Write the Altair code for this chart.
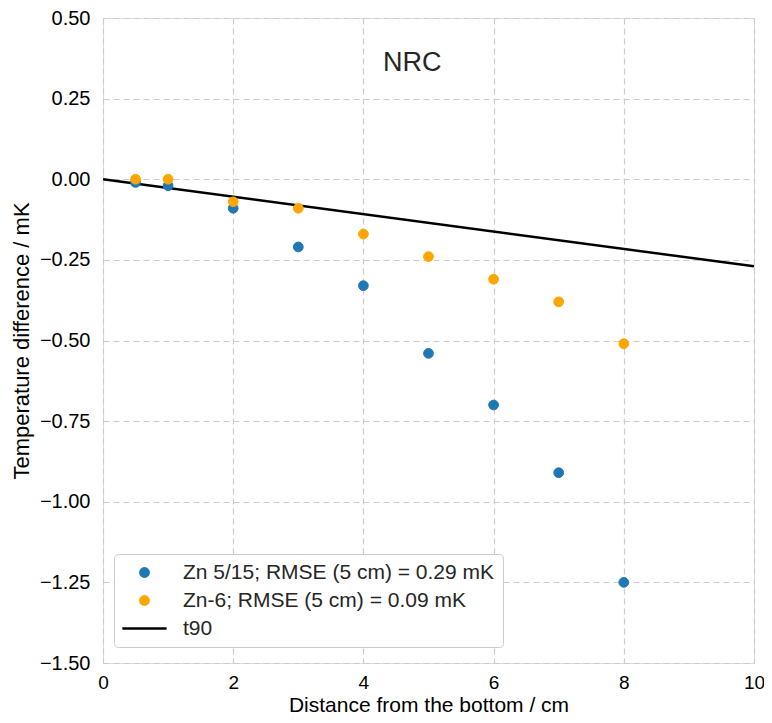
import altair as alt
import pandas as pd

distance = [0.5, 1, 2, 3, 4, 5, 6, 7, 8]
zn515 = [-0.01, -0.02, -0.09, -0.21, -0.33, -0.54, -0.70, -0.91, -1.25]
zn6 = [0.00, 0.00, -0.07, -0.09, -0.17, -0.24, -0.31, -0.38, -0.51]
t90_x = [0, 10]
t90_y = [0.0, -0.27]

labels = ["Zn 5/15; RMSE (5 cm) = 0.29 mK", "Zn-6; RMSE (5 cm) = 0.09 mK", "t90"]
colors = ["#1f77b4", "#ffa500", "#000000"]
shapes = ["circle", "circle", "M-5.3,0L5.3,0"]

pts = pd.DataFrame({
    "x": distance + distance,
    "y": zn515 + zn6,
    "series": [labels[0]] * len(distance) + [labels[1]] * len(distance),
})
line_df = pd.DataFrame({"x": t90_x, "y": t90_y})
title_df = pd.DataFrame({"x": [4.75], "y": [0.36], "t": ["NRC"]})

FONT = "Liberation Sans"
xs = alt.Scale(domain=[0, 10], nice=False, zero=False)
ys = alt.Scale(domain=[-1.5, 0.5], nice=False, zero=False)

xax = alt.Axis(values=[0, 2, 4, 6, 8, 10], format="d", title="Distance from the bottom / cm",
               labelFontSize=19, titleFontSize=21, labelPadding=10, titlePadding=2, ticks=False,
               domain=False, gridDash=[6, 4], gridColor="#cccccc", gridWidth=1.2, labelFlush=False,
               titleFontWeight="normal", labelFont=FONT, titleFont=FONT)
yax = alt.Axis(values=[-1.5, -1.25, -1.0, -0.75, -0.5, -0.25, 0, 0.25, 0.5], format=".2f",
               title="Temperature difference / mK", labelFontSize=20, titleFontSize=22,
               labelPadding=13, titlePadding=6, ticks=False, domain=False, labelFlush=False,
               gridDash=[6, 4], gridColor="#cccccc", gridWidth=1.2,
               titleFontWeight="normal", labelFont=FONT, titleFont=FONT)

legend = alt.Legend(title=None, orient="none", legendX=11, legendY=536, labelFontSize=21,
                    labelFont=FONT, labelColor="#262626", strokeColor="#cccccc", padding=8,
                    cornerRadius=4, fillColor="white", rowPadding=6, symbolStrokeWidth=2.5,
                    symbolSize=70, symbolOffset=12, labelOffset=28,
                    labelLimit=450, symbolOpacity=1)

points = alt.Chart(pts).mark_point(filled=False, opacity=1, strokeWidth=1, size=95).encode(
    x=alt.X("x:Q", scale=xs, axis=xax),
    y=alt.Y("y:Q", scale=ys, axis=yax),
    color=alt.Color("series:N", scale=alt.Scale(domain=labels, range=colors), legend=legend),
    fill=alt.Fill("series:N", scale=alt.Scale(domain=labels, range=colors), legend=legend),
    shape=alt.Shape("series:N", scale=alt.Scale(domain=labels, range=shapes), legend=legend),
)

line = alt.Chart(line_df).mark_line(color="black", strokeWidth=2.5).encode(
    x=alt.X("x:Q", scale=xs), y=alt.Y("y:Q", scale=ys)
)

txt = alt.Chart(title_df).mark_text(fontSize=27, font=FONT, color="#262626").encode(
    x=alt.X("x:Q", scale=xs), y=alt.Y("y:Q", scale=ys), text="t:N"
)

chart = alt.layer(line, points, txt).properties(
    width=651, height=645,
    autosize=alt.AutoSizeParams(type="none"),
    padding={"left": 95, "top": 10, "right": 10, "bottom": 52},
).configure_view(stroke="#cccccc", strokeWidth=2).configure_axis(
    labelColor="#262626", titleColor="#262626"
).configure(background="white")

chart.save("out.html", embed_options={"renderer": "svg", "actions": False})
